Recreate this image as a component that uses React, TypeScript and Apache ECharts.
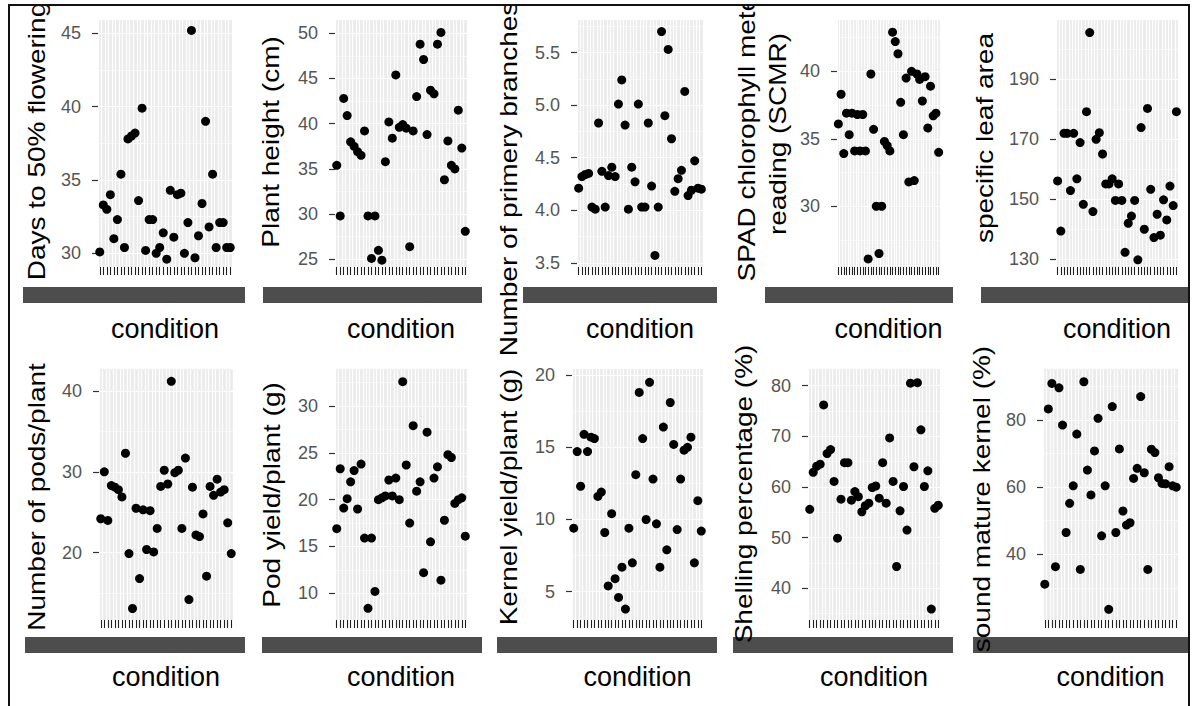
import React, { useEffect, useRef } from "react";
import * as echarts from "echarts";

const categories = [
  "G1", "G2", "G3", "G4", "G5", "G6", "G7", "G8", "G9", "G10",
  "G11", "G12", "G13", "G14", "G15", "G16", "G17", "G18", "G19", "G20",
  "G21", "G22", "G23", "G24", "G25", "G26", "G27", "G28", "G29", "G30",
  "G31", "G32", "G33", "G34", "G35", "G36", "G37", "G38",
];

const daysTo50Flowering = [30.1, 33.3, 33.0, 34.0, 31.0, 32.3, 35.4, 30.4, 37.8, 38.0, 38.2, 33.6, 39.9, 30.2, 32.3, 32.3, 30.0, 30.4, 31.4, 29.6, 34.3, 31.1, 34.0, 34.1, 30.0, 32.1, 45.2, 29.7, 31.2, 33.4, 39.0, 31.8, 35.4, 30.4, 32.1, 32.1, 30.4, 30.4];
const plantHeight = [35.4, 29.8, 42.8, 40.9, 38.0, 37.5, 36.9, 36.5, 39.2, 29.8, 25.1, 29.8, 26.0, 24.9, 35.8, 40.2, 38.4, 45.4, 39.6, 39.9, 39.5, 26.4, 39.2, 43.0, 48.8, 47.1, 38.8, 43.7, 43.3, 48.8, 50.1, 33.8, 38.1, 35.4, 35.0, 41.5, 37.3, 28.1];
const primaryBranches = [4.21, 4.32, 4.34, 4.35, 4.03, 4.01, 4.83, 4.37, 4.03, 4.33, 4.41, 4.32, 5.01, 5.24, 4.81, 4.01, 4.41, 4.27, 5.01, 4.03, 4.03, 4.83, 4.23, 3.57, 4.03, 5.70, 4.90, 5.53, 4.68, 4.18, 4.30, 4.38, 5.13, 4.14, 4.19, 4.47, 4.21, 4.20];
const spadReading = [36.1, 38.3, 33.9, 36.9, 35.3, 36.9, 34.1, 36.8, 34.1, 36.8, 34.1, 26.1, 39.8, 35.7, 30.0, 26.5, 30.0, 34.8, 34.5, 34.1, 42.9, 42.2, 41.3, 37.7, 35.3, 39.5, 31.8, 40.0, 31.9, 39.8, 39.4, 37.8, 39.6, 35.8, 38.9, 36.7, 36.9, 34.0];
const specificLeafArea = [156.1, 139.4, 172.0, 172.0, 152.9, 172.0, 156.8, 168.9, 148.3, 179.2, 205.6, 145.9, 170.0, 172.2, 165.1, 155.1, 155.1, 156.8, 149.6, 155.1, 149.6, 132.3, 142.0, 144.4, 149.6, 129.8, 173.9, 140.0, 180.3, 153.3, 137.2, 145.0, 138.0, 149.8, 143.1, 154.4, 147.9, 179.2];
const podsPerPlant = [24.2, 30.0, 24.0, 28.3, 28.1, 27.8, 26.9, 32.3, 19.9, 13.1, 25.5, 16.8, 25.3, 20.4, 25.2, 20.1, 23.0, 28.2, 30.2, 28.5, 41.2, 29.9, 30.2, 23.0, 31.7, 14.2, 28.1, 22.2, 22.0, 24.8, 17.1, 28.2, 27.1, 29.1, 27.5, 27.8, 23.7, 19.9];
const podYield = [16.9, 23.3, 19.1, 20.1, 21.9, 23.1, 19.0, 23.8, 15.9, 8.4, 15.9, 10.2, 20.0, 20.2, 20.4, 22.1, 20.4, 22.3, 20.0, 32.6, 23.7, 17.5, 27.9, 20.9, 21.9, 12.2, 27.2, 15.5, 22.3, 23.5, 11.4, 17.8, 24.8, 24.5, 19.6, 20.0, 20.2, 16.1];
const kernelYield = [9.4, 14.7, 12.3, 15.9, 14.7, 15.7, 15.6, 11.6, 11.9, 9.1, 5.4, 10.4, 5.9, 4.6, 6.7, 3.8, 9.4, 7.0, 13.1, 18.8, 15.6, 10.0, 19.5, 12.8, 9.7, 6.7, 16.4, 7.9, 18.1, 15.2, 9.3, 12.8, 14.8, 15.0, 15.7, 7.0, 11.3, 9.2];
const shellingPct = [55.6, 62.9, 64.1, 64.5, 76.2, 66.6, 67.4, 61.1, 49.9, 57.6, 64.8, 64.8, 57.4, 59.1, 58.1, 55.1, 56.3, 56.8, 59.9, 60.2, 57.8, 64.8, 56.8, 69.7, 61.1, 44.3, 55.3, 60.1, 51.5, 80.5, 64.0, 80.6, 71.3, 60.1, 63.2, 35.9, 55.8, 56.4];
const soundMatureKernel = [31.1, 83.3, 90.9, 36.3, 89.6, 78.5, 46.5, 55.2, 60.4, 75.8, 35.5, 91.4, 65.1, 57.7, 70.8, 80.5, 45.5, 60.4, 23.6, 84.0, 46.5, 71.4, 52.9, 48.7, 49.4, 62.6, 65.6, 87.0, 64.3, 35.5, 71.3, 70.3, 62.8, 61.1, 61.0, 66.1, 60.4, 60.0];

const ticksDays = [30, 35, 40, 45];
const minorDays = [32.5, 37.5, 42.5];
const ticksHeight = [25, 30, 35, 40, 45, 50];
const minorHeight = [27.5, 32.5, 37.5, 42.5, 47.5];
const ticksBranches = [3.5, 4.0, 4.5, 5.0, 5.5];
const minorBranches = [3.75, 4.25, 4.75, 5.25, 5.75];
const ticksSpad = [30, 35, 40];
const minorSpad = [27.5, 32.5, 37.5, 42.5];
const ticksSla = [130, 150, 170, 190];
const minorSla = [140, 160, 180, 200];
const ticksPods = [20, 30, 40];
const minorPods = [15, 25, 35];
const ticksPodYield = [10, 15, 20, 25, 30];
const minorPodYield = [12.5, 17.5, 22.5, 27.5, 32.5];
const ticksKernel = [5, 10, 15, 20];
const minorKernel = [7.5, 12.5, 17.5];
const ticksShelling = [40, 50, 60, 70, 80];
const minorShelling = [35, 45, 55, 65, 75];
const ticksSound = [40, 60, 80];
const minorSound = [30, 50, 70, 90];

const xTitle = "condition";

const FONT = '"Liberation Sans", Arial, Helvetica, sans-serif';

type Panel = {
  title: string;
  values: number[];
  ticks: number[];
  minor: number[];
  min: number;
  max: number;
  decimals: number;
  left: number;
  top: number;
  width: number;
  height: number;
  titleX: number;
  titleY: number;
  barX0: number;
  barX1: number;
};

const ROW1 = { top: 20, height: 247, barY: 287, condY: 329 };
const ROW2 = { top: 369, height: 251, barY: 637, condY: 677 };

const panels: (Panel & { row: typeof ROW1 })[] = [
  { title: "Days to 50% flowering", values: daysTo50Flowering, ticks: ticksDays, minor: minorDays, min: 29.07, max: 45.91, decimals: 0, left: 98, top: ROW1.top, width: 134, height: ROW1.height, titleX: 37, titleY: 141, barX0: 23, barX1: 245, row: ROW1 },
  { title: "Plant height (cm)", values: plantHeight, ticks: ticksHeight, minor: minorHeight, min: 24.15, max: 51.47, decimals: 0, left: 335, top: ROW1.top, width: 132, height: ROW1.height, titleX: 271, titleY: 142, barX0: 263, barX1: 482, row: ROW1 },
  { title: "Number of primery branches", values: primaryBranches, ticks: ticksBranches, minor: minorBranches, min: 3.46, max: 5.81, decimals: 1, left: 577, top: ROW1.top, width: 126, height: ROW1.height, titleX: 509, titleY: 179, barX0: 523, barX1: 717, row: ROW1 },
  { title: "SPAD chlorophyll meter\nreading (SCMR)", values: spadReading, ticks: ticksSpad, minor: minorSpad, min: 25.5, max: 43.8, decimals: 0, left: 837, top: ROW1.top, width: 103, height: ROW1.height, titleX: 762, titleY: 134, barX0: 765, barX1: 953, row: ROW1 },
  { title: "specific leaf area", values: specificLeafArea, ticks: ticksSla, minor: minorSla, min: 127.4, max: 209.8, decimals: 0, left: 1056, top: ROW1.top, width: 122, height: ROW1.height, titleX: 985, titleY: 138, barX0: 981, barX1: 1189, row: ROW1 },
  { title: "Number of pods/plant", values: podsPerPlant, ticks: ticksPods, minor: minorPods, min: 11.68, max: 42.72, decimals: 0, left: 99, top: ROW2.top, width: 134, height: ROW2.height, titleX: 37, titleY: 497, barX0: 25, barX1: 245, row: ROW2 },
  { title: "Pod yield/plant (g)", values: podYield, ticks: ticksPodYield, minor: minorPodYield, min: 7.15, max: 33.95, decimals: 0, left: 335, top: ROW2.top, width: 132, height: ROW2.height, titleX: 272, titleY: 495, barX0: 262, barX1: 482, row: ROW2 },
  { title: "Kernel yield/plant (g)", values: kernelYield, ticks: ticksKernel, minor: minorKernel, min: 3.04, max: 20.42, decimals: 0, left: 572, top: ROW2.top, width: 131, height: ROW2.height, titleX: 509, titleY: 497, barX0: 497, barX1: 717, row: ROW2 },
  { title: "Shelling percentage (%)", values: shellingPct, ticks: ticksShelling, minor: minorShelling, min: 33.74, max: 83.3, decimals: 0, left: 808, top: ROW2.top, width: 132, height: ROW2.height, titleX: 744, titleY: 494, barX0: 733, barX1: 953, row: ROW2 },
  { title: "sound mature kernel (%)", values: soundMatureKernel, ticks: ticksSound, minor: minorSound, min: 20.43, max: 95.2, decimals: 0, left: 1043, top: ROW2.top, width: 135, height: ROW2.height, titleX: 982, titleY: 499, barX0: 973, barX1: 1189, row: ROW2 },
];

function buildOption() {
  const grid = panels.map((p) => ({
    left: p.left,
    top: p.top,
    width: p.width,
    height: p.height,
    show: true,
    backgroundColor: "#EBEBEB",
    borderWidth: 0,
    containLabel: false,
  }));

  const xAxis = panels.map((p, i) => ({
    type: "category",
    gridIndex: i,
    data: categories,
    boundaryGap: true,
    axisLine: { show: false },
    axisTick: {
      show: true,
      alignWithLabel: true,
      interval: 0,
      length: 8,
      lineStyle: { color: "#1F1F1F", width: 1.1 },
    },
    axisLabel: { show: false, interval: 0 },
    splitLine: { show: true, interval: 0, lineStyle: { color: "#FFFFFF", width: 1.2 } },
  }));

  const yAxis: any[] = [];
  panels.forEach((p, i) => {
    yAxis.push({
      type: "value",
      gridIndex: i,
      position: "left",
      min: p.min,
      max: p.max,
      axisLine: { show: false },
      axisTick: {
        show: true,
        length: 6,
        customValues: p.ticks,
        lineStyle: { color: "#333333", width: 1.2 },
      },
      axisLabel: {
        show: true,
        customValues: p.ticks,
        margin: 17,
        color: "#555555",
        fontSize: 18,
        fontFamily: FONT,
        formatter: (v: number) => Number(v).toFixed(p.decimals),
      },
      splitLine: { show: true, lineStyle: { color: "#FFFFFF", width: 1.2 } },
    });
    yAxis.push({
      type: "value",
      gridIndex: i,
      position: "left",
      min: p.min,
      max: p.max,
      axisLine: { show: false },
      axisTick: { show: false, customValues: p.minor },
      axisLabel: { show: false },
      splitLine: { show: true, lineStyle: { color: "#FFFFFF", width: 0.6 } },
    });
  });

  const series = panels.map((p, i) => ({
    type: "scatter",
    xAxisIndex: i,
    yAxisIndex: 2 * i,
    data: p.values,
    symbol: "circle",
    symbolSize: 9,
    itemStyle: { color: "#000000", opacity: 1 },
    clip: false,
    silent: true,
  }));

  const graphic: any[] = [];
  panels.forEach((p) => {
    graphic.push({
      type: "rect",
      silent: true,
      z: 5,
      shape: { x: p.barX0, y: p.row.barY, width: p.barX1 - p.barX0, height: 16 },
      style: { fill: "#4D4D4D" },
    });
    graphic.push({
      type: "text",
      silent: true,
      z: 5,
      x: p.left + p.width / 2,
      y: p.row.condY,
      style: {
        text: xTitle,
        fontSize: 27,
        fontFamily: FONT,
        fill: "#000000",
        align: "center",
        verticalAlign: "middle",
        textAlign: "center",
        textVerticalAlign: "middle",
      },
    });
    graphic.push({
      type: "text",
      silent: true,
      z: 5,
      x: p.titleX,
      y: p.titleY,
      rotation: Math.PI / 2,
      scaleY: 0.85,
      style: {
        text: p.title,
        fontSize: 28,
        lineHeight: 37,
        fontFamily: FONT,
        fill: "#000000",
        align: "center",
        verticalAlign: "middle",
        textAlign: "center",
        textVerticalAlign: "middle",
      },
    });
  });

  // outside-frame masks and frame
  graphic.push({ type: "rect", silent: true, z: 100, shape: { x: 0, y: 0, width: 1198, height: 4 }, style: { fill: "#FFFFFF" } });
  graphic.push({ type: "rect", silent: true, z: 100, shape: { x: 0, y: 0, width: 8, height: 706 }, style: { fill: "#FFFFFF" } });
  graphic.push({ type: "rect", silent: true, z: 100, shape: { x: 1190, y: 0, width: 8, height: 706 }, style: { fill: "#FFFFFF" } });
  graphic.push({
    type: "rect",
    silent: true,
    z: 101,
    shape: { x: 9, y: 5, width: 1180, height: 760 },
    style: { fill: "none", stroke: "#111111", lineWidth: 2 },
  });

  return {
    animation: false,
    backgroundColor: "#FFFFFF",
    textStyle: { fontFamily: FONT },
    grid,
    xAxis,
    yAxis,
    series,
    graphic,
  };
}

export default function App() {
  const ref = useRef<HTMLDivElement | null>(null);
  useEffect(() => {
    if (!ref.current) return;
    const chart = echarts.init(ref.current, undefined, { renderer: "svg" });
    chart.setOption(buildOption() as any);
    return () => {
      chart.dispose();
    };
  }, []);
  return (
    <div
      ref={ref}
      style={{ position: "absolute", left: 0, top: 0, width: 1198, height: 706 }}
    />
  );
}
